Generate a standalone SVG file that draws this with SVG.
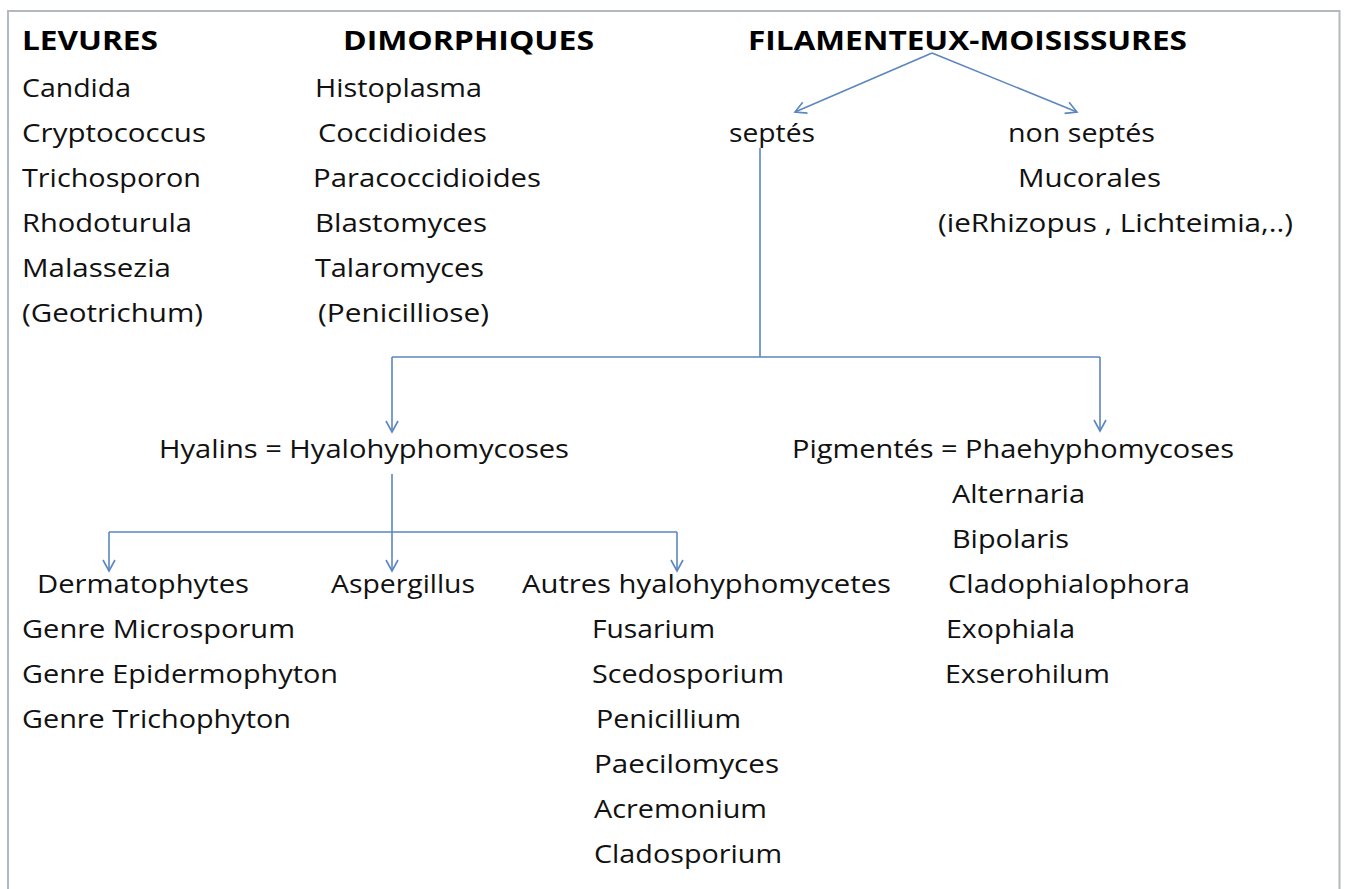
<svg xmlns="http://www.w3.org/2000/svg" width="1347" height="889" viewBox="0 0 1347 889">
<defs>
<style>
text{font-family:"Open Sans","Noto Sans",sans-serif;font-size:25px;fill:#111;}
.h{font-weight:bold;font-size:27px;fill:#000;}
.c{fill:none;stroke:#5b86c0;stroke-width:1.6;}
</style>
<marker id="ah" viewBox="0 0 14 14" refX="12" refY="7" markerWidth="14" markerHeight="14" markerUnits="userSpaceOnUse" orient="auto">
<path d="M1,1 L12,7 L1,13" fill="none" stroke="#5b86c0" stroke-width="1.6"/>
</marker>
</defs>
<rect x="0" y="0" width="1347" height="889" fill="#fff"/>
<path d="M8,889 V11 H1339.5 V889" fill="none" stroke="#b4b8bf" stroke-width="2"/>
<g id="connectors">
<path class="c" d="M932,53 L795,112" marker-end="url(#ah)"/>
<path class="c" d="M932,53 L1077,112" marker-end="url(#ah)"/>
<path class="c" d="M760,148 V357"/>
<path class="c" d="M392,357 H1100"/>
<path class="c" d="M392,357 V432" marker-end="url(#ah)"/>
<path class="c" d="M1100,357 V431" marker-end="url(#ah)"/>
<path class="c" d="M392,474 V571" marker-end="url(#ah)"/>
<path class="c" d="M109,532 H677"/>
<path class="c" d="M109,532 V571" marker-end="url(#ah)"/>
<path class="c" d="M677,532 V571" marker-end="url(#ah)"/>
</g>
<g id="levures">
<text class="h" x="22" y="50" textLength="136" lengthAdjust="spacingAndGlyphs">LEVURES</text>
<text x="22" y="97" textLength="109" lengthAdjust="spacingAndGlyphs">Candida</text>
<text x="22" y="142" textLength="184" lengthAdjust="spacingAndGlyphs">Cryptococcus</text>
<text x="22" y="187" textLength="179" lengthAdjust="spacingAndGlyphs">Trichosporon</text>
<text x="22" y="232" textLength="170" lengthAdjust="spacingAndGlyphs">Rhodoturula</text>
<text x="22" y="277" textLength="149" lengthAdjust="spacingAndGlyphs">Malassezia</text>
<text x="22" y="322" textLength="181" lengthAdjust="spacingAndGlyphs">(Geotrichum)</text>
</g>
<g id="dimorphiques">
<text class="h" x="343" y="50" textLength="251" lengthAdjust="spacingAndGlyphs">DIMORPHIQUES</text>
<text x="315" y="97" textLength="167" lengthAdjust="spacingAndGlyphs">Histoplasma</text>
<text x="318" y="142" textLength="169" lengthAdjust="spacingAndGlyphs">Coccidioides</text>
<text x="313" y="187" textLength="228" lengthAdjust="spacingAndGlyphs">Paracoccidioides</text>
<text x="315" y="232" textLength="172" lengthAdjust="spacingAndGlyphs">Blastomyces</text>
<text x="315" y="277" textLength="169" lengthAdjust="spacingAndGlyphs">Talaromyces</text>
<text x="318" y="322" textLength="171" lengthAdjust="spacingAndGlyphs">(Penicilliose)</text>
</g>
<g id="filamenteux">
<text class="h" x="748" y="50" textLength="439" lengthAdjust="spacingAndGlyphs">FILAMENTEUX-MOISISSURES</text>
</g>
<g id="septes">
<text x="729" y="142" textLength="86" lengthAdjust="spacingAndGlyphs">septés</text>
</g>
<g id="non-septes">
<text x="1008" y="142" textLength="147" lengthAdjust="spacingAndGlyphs">non septés</text>
<text x="1018" y="187" textLength="143" lengthAdjust="spacingAndGlyphs">Mucorales</text>
<text x="938" y="232" textLength="355" lengthAdjust="spacingAndGlyphs">(ieRhizopus , Lichteimia,..)</text>
</g>
<g id="hyalins">
<text x="159" y="458" textLength="410" lengthAdjust="spacingAndGlyphs">Hyalins = Hyalohyphomycoses</text>
</g>
<g id="pigmentes">
<text x="792" y="458" textLength="442" lengthAdjust="spacingAndGlyphs">Pigmentés = Phaehyphomycoses</text>
<text x="952" y="503" textLength="133" lengthAdjust="spacingAndGlyphs">Alternaria</text>
<text x="952" y="548" textLength="117" lengthAdjust="spacingAndGlyphs">Bipolaris</text>
<text x="948" y="593" textLength="242" lengthAdjust="spacingAndGlyphs">Cladophialophora</text>
<text x="946" y="638" textLength="129" lengthAdjust="spacingAndGlyphs">Exophiala</text>
<text x="945" y="683" textLength="165" lengthAdjust="spacingAndGlyphs">Exserohilum</text>
</g>
<g id="dermatophytes">
<text x="37" y="593" textLength="212" lengthAdjust="spacingAndGlyphs">Dermatophytes</text>
<text x="22" y="638" textLength="273" lengthAdjust="spacingAndGlyphs">Genre Microsporum</text>
<text x="22" y="683" textLength="316" lengthAdjust="spacingAndGlyphs">Genre Epidermophyton</text>
<text x="22" y="728" textLength="269" lengthAdjust="spacingAndGlyphs">Genre Trichophyton</text>
</g>
<g id="aspergillus">
<text x="331" y="593" textLength="144" lengthAdjust="spacingAndGlyphs">Aspergillus</text>
</g>
<g id="autres">
<text x="522" y="593" textLength="369" lengthAdjust="spacingAndGlyphs">Autres hyalohyphomycetes</text>
<text x="592" y="638" textLength="123" lengthAdjust="spacingAndGlyphs">Fusarium</text>
<text x="592" y="683" textLength="192" lengthAdjust="spacingAndGlyphs">Scedosporium</text>
<text x="596" y="728" textLength="145" lengthAdjust="spacingAndGlyphs">Penicillium</text>
<text x="594" y="773" textLength="185" lengthAdjust="spacingAndGlyphs">Paecilomyces</text>
<text x="594" y="818" textLength="173" lengthAdjust="spacingAndGlyphs">Acremonium</text>
<text x="594" y="863" textLength="188" lengthAdjust="spacingAndGlyphs">Cladosporium</text>
</g>
</svg>
